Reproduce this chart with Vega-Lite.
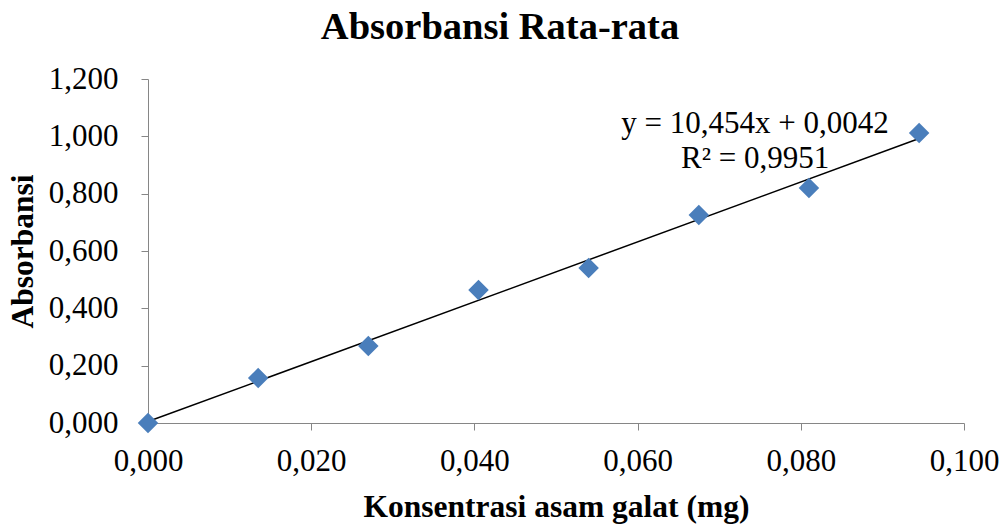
{
  "$schema": "https://vega.github.io/schema/vega-lite/v6.json",
  "width": 816,
  "height": 344,
  "autosize": {"type": "none"},
  "padding": {"left": 148, "top": 79, "right": 42, "bottom": 102},
  "background": "white",
  "title": {
    "text": "Absorbansi Rata-rata",
    "font": "Liberation Serif",
    "fontSize": 38.5,
    "fontWeight": "bold",
    "color": "black",
    "anchor": "middle",
    "dx": -56,
    "offset": 16
  },
  "config": {
    "view": {"stroke": null},
    "font": "Liberation Serif"
  },
  "datasets": {
    "points": [
      {"konsentrasi": 0.0, "absorbansi": 0.000},
      {"konsentrasi": 0.0135, "absorbansi": 0.157},
      {"konsentrasi": 0.027, "absorbansi": 0.269},
      {"konsentrasi": 0.0405, "absorbansi": 0.464},
      {"konsentrasi": 0.054, "absorbansi": 0.541},
      {"konsentrasi": 0.0675, "absorbansi": 0.726},
      {"konsentrasi": 0.081, "absorbansi": 0.820},
      {"konsentrasi": 0.0945, "absorbansi": 1.012}
    ],
    "annotation": [
      {"konsentrasi": 0.0744, "absorbansi": 1.0116}
    ]
  },
  "layer": [
    {
      "data": {"name": "points"},
      "transform": [
        {"regression": "absorbansi", "on": "konsentrasi", "method": "linear"}
      ],
      "mark": {"type": "line", "color": "black", "strokeWidth": 1.5},
      "encoding": {
        "x": {
          "field": "konsentrasi",
          "type": "quantitative",
          "scale": {"domain": [0, 0.1], "nice": false, "zero": false},
          "axis": {
            "title": "Konsentrasi asam galat (mg)",
            "values": [0, 0.02, 0.04, 0.06, 0.08, 0.1],
            "labelExpr": "replace(format(datum.value, '.3f'), '.', ',')",
            "labelFlush": false,
            "labelOverlap": false,
            "grid": false,
            "domainColor": "#868686",
            "tickColor": "#868686",
            "tickSize": 7,
            "labelFont": "Liberation Serif",
            "labelFontSize": 31,
            "labelColor": "black",
            "labelPadding": 16,
            "titleFont": "Liberation Serif",
            "titleFontSize": 31.5,
            "titleFontWeight": "bold",
            "titleColor": "black",
            "titlePadding": 15
          }
        },
        "y": {
          "field": "absorbansi",
          "type": "quantitative",
          "scale": {"domain": [0, 1.2], "nice": false, "zero": false},
          "axis": {
            "title": "Absorbansi",
            "values": [0, 0.2, 0.4, 0.6, 0.8, 1.0, 1.2],
            "labelExpr": "replace(format(datum.value, '.3f'), '.', ',')",
            "labelFlush": false,
            "labelOverlap": false,
            "grid": false,
            "domainColor": "#868686",
            "tickColor": "#868686",
            "tickSize": 7,
            "labelFont": "Liberation Serif",
            "labelFontSize": 31,
            "labelColor": "black",
            "labelPadding": 23,
            "titleFont": "Liberation Serif",
            "titleFontSize": 31.5,
            "titleFontWeight": "bold",
            "titleColor": "black",
            "titlePadding": 9
          }
        }
      }
    },
    {
      "data": {"name": "points"},
      "mark": {"type": "point", "shape": "diamond", "filled": true, "opacity": 1, "color": "#4A7EBB", "size": 420},
      "encoding": {
        "x": {"field": "konsentrasi", "type": "quantitative"},
        "y": {"field": "absorbansi", "type": "quantitative"}
      }
    },
    {
      "data": {"name": "annotation"},
      "mark": {
        "type": "text",
        "text": ["y = 10,454x + 0,0042", "R² = 0,9951"],
        "font": "Liberation Serif",
        "fontSize": 31,
        "color": "black",
        "align": "center",
        "baseline": "alphabetic",
        "lineHeight": 35
      },
      "encoding": {
        "x": {"field": "konsentrasi", "type": "quantitative"},
        "y": {"field": "absorbansi", "type": "quantitative"}
      }
    }
  ]
}
